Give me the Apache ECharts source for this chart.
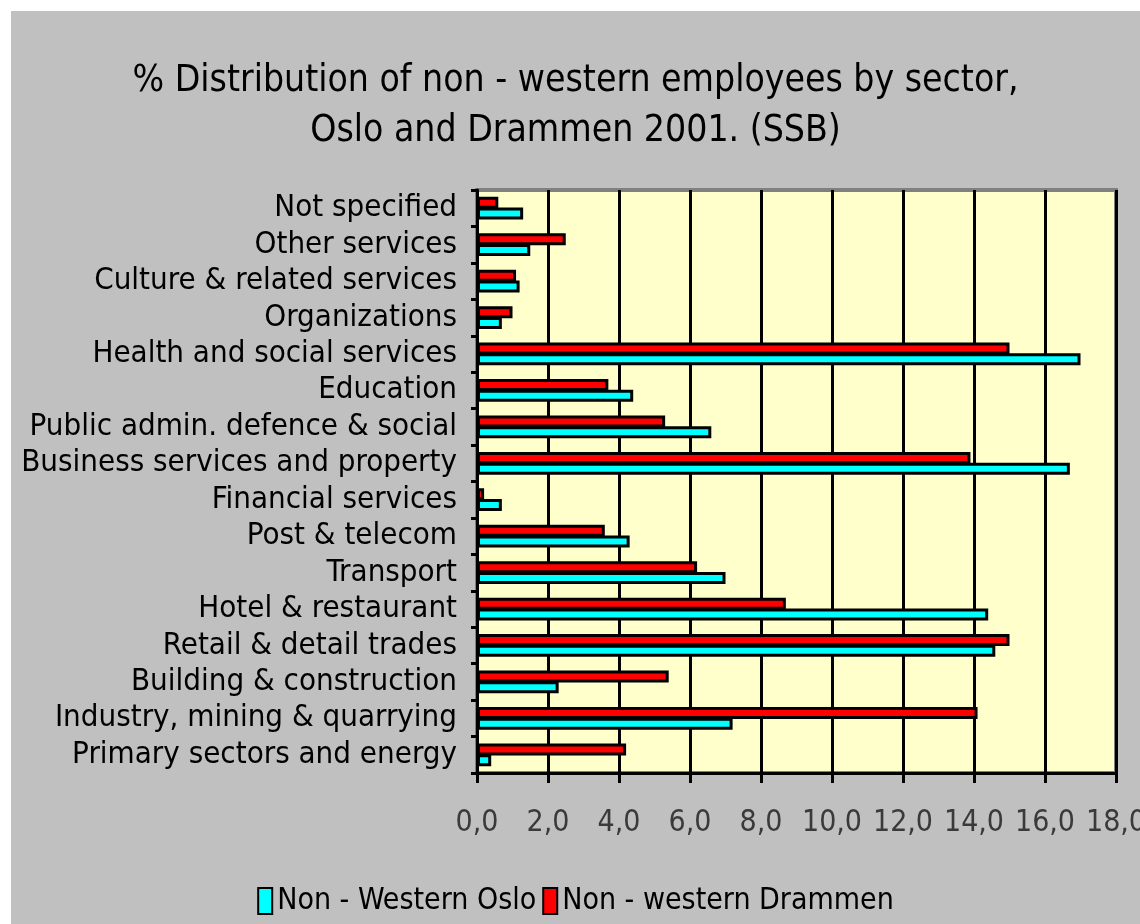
<!DOCTYPE html>
<html>
<head>
<meta charset="utf-8">
<script src="https://cdn.jsdelivr.net/npm/echarts@6/dist/echarts.min.js"></script>
<style>
  html, body { margin: 0; padding: 0; background: #ffffff; }
  #main { position: absolute; left: 11px; top: 11px; width: 1129px; height: 913px; }
</style>
</head>
<body>
<div id="main"></div>
<script>
// sectors, bottom to top
const sectors = [
  'Primary sectors and energy',
  'Industry, mining & quarrying',
  'Building & construction',
  'Retail & detail trades',
  'Hotel & restaurant',
  'Transport',
  'Post & telecom',
  'Financial services',
  'Business services and property',
  'Public admin. defence & social',
  'Education',
  'Health and social services',
  'Organizations',
  'Culture & related services',
  'Other services',
  'Not specified'
]

const osloValues = [0.4, 7.2, 2.3, 14.6, 14.4, 7.0, 4.3, 0.7, 16.7, 6.6, 4.4, 17.0, 0.7, 1.2, 1.5, 1.3]
const drammenValues = [4.2, 14.1, 5.4, 15.0, 8.7, 6.2, 3.6, 0.2, 13.9, 5.3, 3.7, 15.0, 1.0, 1.1, 2.5, 0.6]

const seriesNames = ['Non - Western Oslo', 'Non - western Drammen']

const font = '"DejaVu Sans Condensed", "Liberation Sans Narrow", "Liberation Sans", Arial, sans-serif'

let myChart = echarts.init(document.getElementById('main'))

let option = {
  backgroundColor: '#c0c0c0',
  title: {
    text: '% Distribution of non - western employees by sector,\nOslo and Drammen 2001. (SSB)',
    left: 'center',
    top: 40,
    textStyle: {
      fontFamily: font,
      fontSize: 37,
      fontWeight: 'normal',
      color: '#000',
      lineHeight: 50,
    },
  },
  legend: {
    data: seriesNames,
    icon: 'rect',
    bottom: 8,
    left: 'center',
    padding: 0,
    itemWidth: 14,
    itemHeight: 26,
    itemGap: 6,
    textStyle: { fontFamily: font, fontSize: 30, color: '#000' },
  },
  grid: {
    left: 466,
    right: 24,
    top: 179,
    bottom: 151,
    outerBoundsMode: 'none',
    show: true,
    backgroundColor: '#ffffcc',
    borderColor: '#808080',
    borderWidth: 4,
  },
  xAxis: {
    type: 'value',
    min: 0,
    max: 18,
    interval: 2,
    axisLine: { show: true, lineStyle: { color: '#000', width: 3 } },
    axisTick: { show: true, length: 10, lineStyle: { color: '#000', width: 3 } },
    splitLine: { show: true, lineStyle: { color: '#000', width: 3 } },
    axisLabel: {
      margin: 35,
      fontFamily: font,
      fontSize: 30,
      color: '#3a3a3a',
      formatter: (v) => v.toFixed(1).replace('.', ','),
    },
  },
  yAxis: {
    type: 'category',
    data: sectors,
    axisLine: { show: true, lineStyle: { color: '#000', width: 3 } },
    axisTick: { show: true, length: 6, lineStyle: { color: '#000', width: 3 } },
    axisLabel: {
      interval: 0,
      margin: 20,
      fontFamily: font,
      fontSize: 31,
      color: '#000',
    },
  },
  series: [
    {
      name: seriesNames[1],
      type: 'bar',
      data: drammenValues,
      barWidth: 12,
      barGap: '-10%',
      itemStyle: { color: '#ff0000', borderColor: '#000', borderWidth: 3 },
    },
    {
      name: seriesNames[0],
      type: 'bar',
      data: osloValues,
      barWidth: 12,
      barGap: '-10%',
      itemStyle: { color: '#00ffff', borderColor: '#000', borderWidth: 3 },
    },
  ],
}

myChart.setOption(option)
</script>
</body>
</html>
